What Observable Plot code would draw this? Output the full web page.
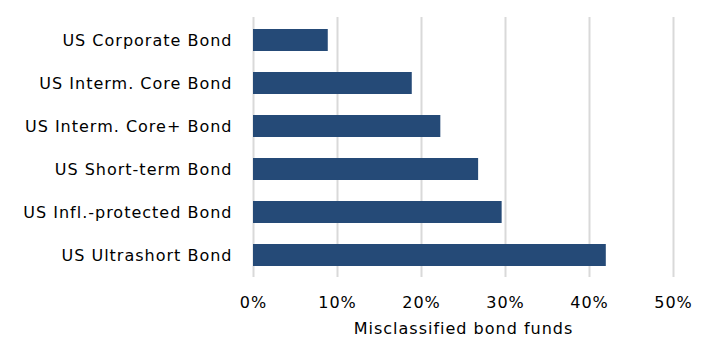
<!DOCTYPE html>
<html>
<head>
<meta charset="utf-8">
<script src="https://cdn.jsdelivr.net/npm/d3@7"></script>
<script src="https://cdn.jsdelivr.net/npm/@observablehq/plot@0.6"></script>
<style>
  html, body { margin: 0; padding: 0; background: #fff; }
  #chart svg { display: block; }
  #chart svg text { letter-spacing: 1px; }
</style>
</head>
<body>
<div id="chart"></div>
<script>
const categories = [
  "US Corporate Bond",
  "US Interm. Core Bond",
  "US Interm. Core+ Bond",
  "US Short-term Bond",
  "US Infl.-protected Bond",
  "US Ultrashort Bond"
];
const values = [0.089, 0.189, 0.223, 0.268, 0.296, 0.420];
const xTicks = [0, 0.1, 0.2, 0.3, 0.4, 0.5];
const xLabel = "Misclassified bond funds";

const data = categories.map((c, i) => ({category: c, value: values[i]}));

const chart = Plot.plot({
  width: 718,
  height: 364,
  marginLeft: 253,
  marginRight: 45,
  marginTop: 17,
  marginBottom: 87,
  style: {fontFamily: "Verdana, 'DejaVu Sans', sans-serif", fontSize: "16px", color: "#000", background: "#fff"},
  x: {domain: [0, 0.5], label: null},
  y: {domain: categories, label: null, paddingInner: 0.49, paddingOuter: 0.25},
  marks: [
    Plot.gridX(xTicks, {stroke: "#d9d9d9", strokeOpacity: 1, strokeWidth: 2}),
    Plot.barX(data, {x: "value", y: "category", fill: "#254a77"}),
    Plot.axisX({ticks: xTicks, tickFormat: d => Math.round(d * 100) + "%", tickSize: 0, tickPadding: 19, fontSize: 16}),
    Plot.axisY({tickSize: 0, tickPadding: 21, fontSize: 16}),
    Plot.text([xLabel], {text: d => d, frameAnchor: "bottom", dy: 51, fontSize: 16, lineAnchor: "middle"})
  ]
});
document.getElementById("chart").appendChild(chart);
</script>
</body>
</html>
